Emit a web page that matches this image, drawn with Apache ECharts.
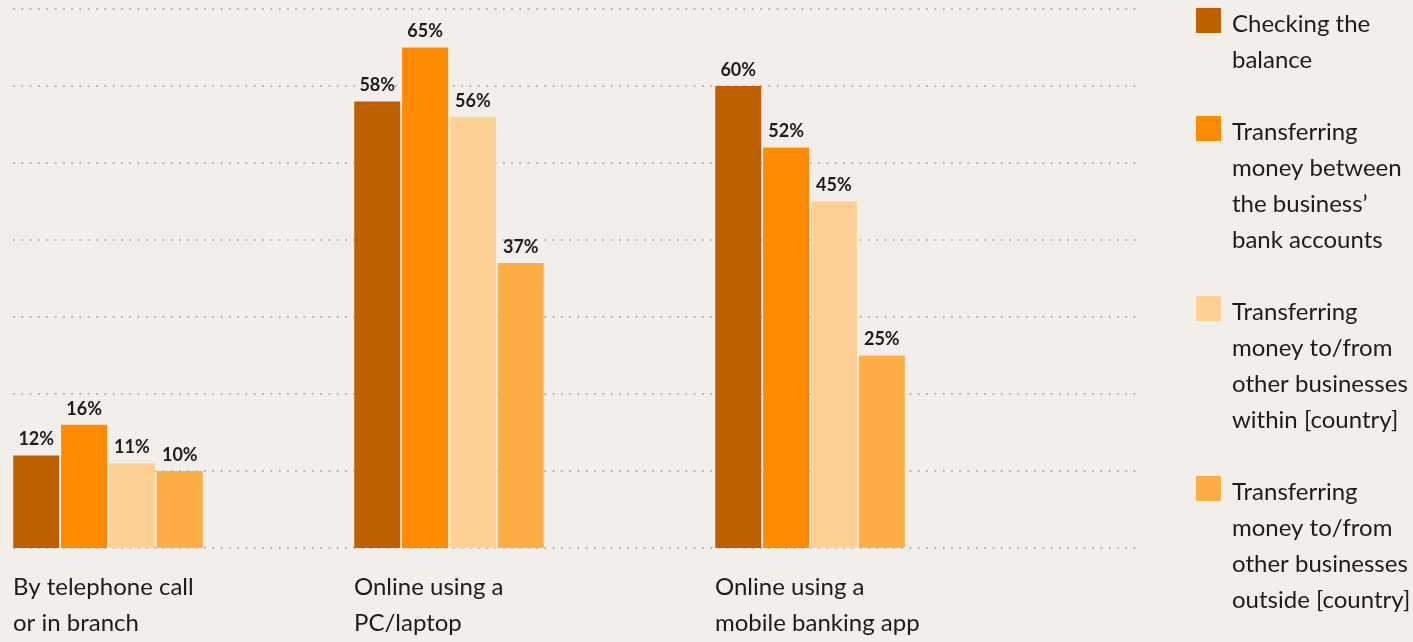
<!DOCTYPE html>
<html>
<head>
<meta charset="utf-8">
<script src="https://cdn.jsdelivr.net/npm/echarts@6/dist/echarts.min.js"></script>
<style>
  html, body { margin: 0; padding: 0; background: #f2efeb; }
  #chart { width: 1413px; height: 642px; }
</style>
</head>
<body>
<div id="chart"></div>
<script>
// ---- data ----
const categories = [
  'By telephone call\nor in branch',
  'Online using a\nPC/laptop',
  'Online using a\nmobile banking app'
];
const seriesNames = [
  'Checking the\nbalance',
  'Transferring\nmoney between\nthe business’\nbank accounts',
  'Transferring\nmoney to/from\nother businesses\nwithin [country]',
  'Transferring\nmoney to/from\nother businesses\noutside [country]'
];
const checkingBalance = [12, 58, 60];
const transferOwnAccounts = [16, 65, 52];
const transferWithinCountry = [11, 56, 45];
const transferOutsideCountry = [10, 37, 25];
const valueAxisMin = 0;
const valueAxisMax = 70;
const valueAxisInterval = 10;

// ---- styling ----
const seriesValues = [checkingBalance, transferOwnAccounts, transferWithinCountry, transferOutsideCountry];
const colors = ['#bf6000', '#ff8c00', '#ffd194', '#ffad45'];
const FONT = 'Lato';
const TEXT = '#1c1c1c';
const groupLefts = [13, 354, 715];
const groupWidth = 190;
const plotTop = 9, plotBottom = 94;

const grids = [{ left: 13, right: 276, top: plotTop, bottom: plotBottom }];
const xAxes = [{ gridIndex: 0, type: 'value', min: 0, max: 1, show: false }];
const yAxes = [{
  gridIndex: 0, type: 'value', min: valueAxisMin, max: valueAxisMax, interval: valueAxisInterval,
  axisLine: { show: false }, axisTick: { show: false }, axisLabel: { show: false },
  splitLine: { show: true, lineStyle: { color: '#b9b7b4', width: 2, type: [2, 6.3] } }
}];
categories.forEach((cat, g) => {
  grids.push({ left: groupLefts[g], width: groupWidth, top: plotTop, bottom: plotBottom });
  xAxes.push({
    gridIndex: g + 1, type: 'category', data: [cat],
    axisLine: { show: false }, axisTick: { show: false },
    axisLabel: {
      margin: 21,
      formatter: (v) => v.split('\n').map(l => '{a|' + l + '}').join('\n'),
      rich: { a: { width: groupWidth, align: 'left', fontFamily: FONT, fontSize: 24, lineHeight: 36, color: TEXT } }
    }
  });
  yAxes.push({ gridIndex: g + 1, type: 'value', min: valueAxisMin, max: valueAxisMax, interval: valueAxisInterval, show: false, splitLine: { show: false } });
});

const series = [];
seriesNames.forEach((name, s) => {
  categories.forEach((cat, g) => {
    series.push({
      name: name, type: 'bar', xAxisIndex: g + 1, yAxisIndex: g + 1,
      data: [seriesValues[s][g]],
      barWidth: 46, barGap: '4%',
      itemStyle: { color: colors[s] },
      label: {
        show: true, position: 'top', distance: 7, formatter: '{c}%',
        fontFamily: FONT, fontSize: 18, fontWeight: 'bold', color: TEXT
      },
      emphasis: { disabled: true }
    });
  });
});

const LH = 36;
const SPACER = 8;
const option = {
  backgroundColor: '#f2efeb',
  animation: false,
  color: colors,
  grid: grids,
  xAxis: xAxes,
  yAxis: yAxes,
  legend: {
    orient: 'vertical', left: 1196, top: 8 - 41.5 - SPACER / 2, height: 3000,
    padding: 0, itemWidth: 25, itemHeight: 25, itemGap: -72 - SPACER, icon: 'rect',
    selectedMode: false,
    // a spacer line plus blank lines keep the swatch level with the first text line
    formatter: (name) => {
      const lines = name.split('\n');
      const blanks = lines.slice(1).map(() => '{t| }');
      return ['{s| }'].concat(blanks, lines.map(l => '{t|' + l + '}')).join('\n');
    },
    textStyle: {
      fontFamily: FONT, fontSize: 24, lineHeight: LH, color: TEXT,
      rich: {
        s: { fontSize: 4, lineHeight: SPACER, padding: [0, 0, 0, 6] },
        t: { fontFamily: FONT, fontSize: 24, lineHeight: LH, color: TEXT, padding: [0, 0, 0, 6] }
      }
    },
    data: seriesNames
  },
  series: series
};

const chart = echarts.init(document.getElementById('chart'), null, { renderer: 'canvas' });
chart.setOption(option);
</script>
</body>
</html>
